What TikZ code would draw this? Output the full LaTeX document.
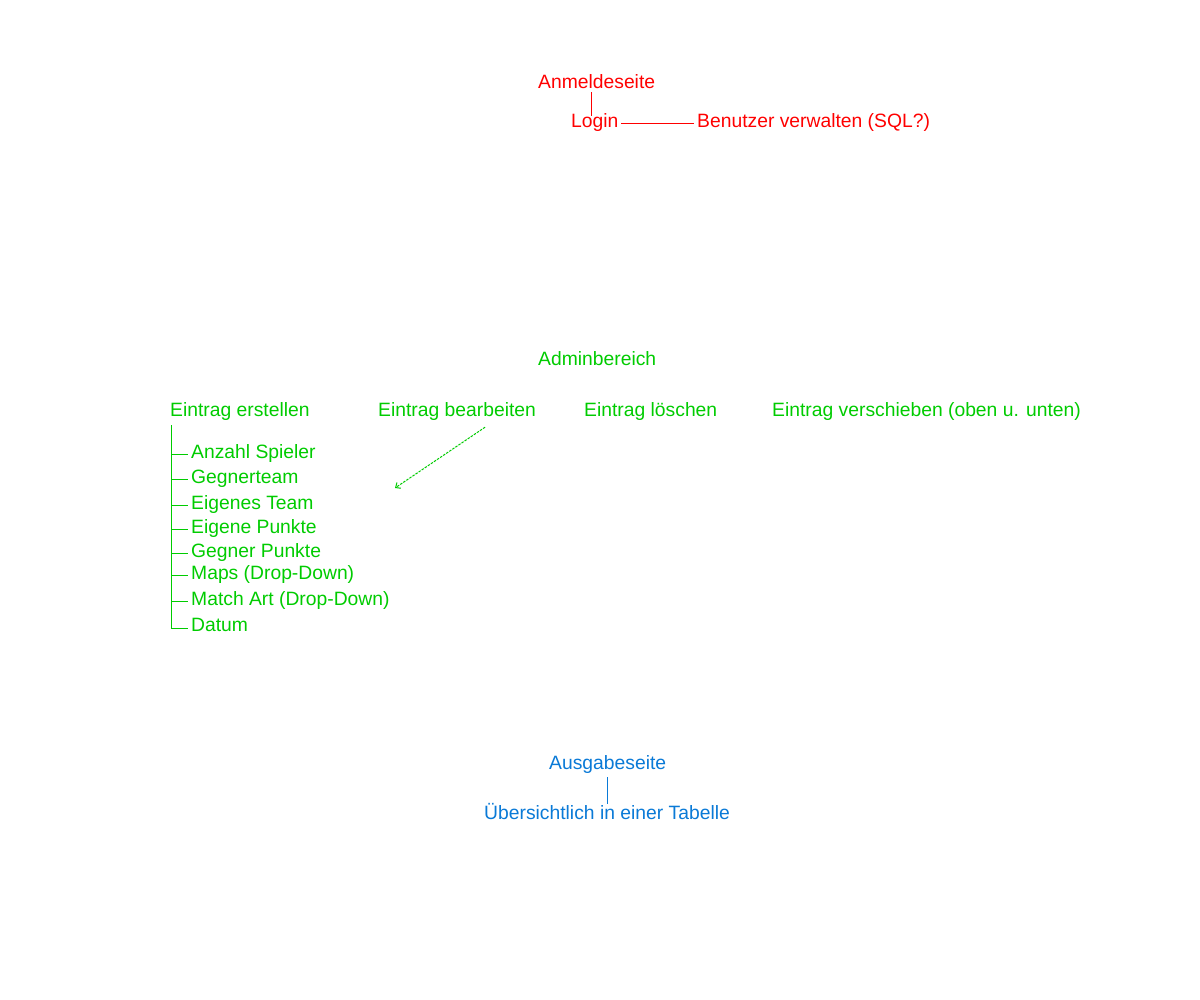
\documentclass[tikz,border=0pt]{standalone}
\usepackage{fontspec}
\setmainfont{Liberation Sans}
\usetikzlibrary{arrows.meta}
\definecolor{cred}{RGB}{255,0,0}
\definecolor{cgreen}{RGB}{0,204,0}
\definecolor{cblue}{RGB}{10,122,215}
\tikzset{
  lbl/.style={inner sep=0pt, anchor=base west, font=\fontsize{19.3}{22}\selectfont},
  redlbl/.style={lbl, text=cred},
  greenlbl/.style={lbl, text=cgreen},
  bluelbl/.style={lbl, text=cblue},
  conn/.style={line width=1pt, line cap=rect},
}
\begin{document}
\begin{tikzpicture}[x=1pt,y=-1pt]
\useasboundingbox[fill=white] (0,0) rectangle (1200,1000);

% Anmeldeseite (red)
\node[redlbl] (anm) at (538,89) {Anmeldeseite};
\node[redlbl] (login) at (571,128) {Login};
\node[redlbl] (benutzer) at (697,128) {Benutzer verwalten (SQL?)};
\draw[conn, color=cred] ([yshift=-3pt]anm.south -| 591.5,0) -- ([yshift=-2pt]login.north -| 591.5,0);
\draw[conn, color=cred] ([xshift=3pt]login.east |- 0,123.5) -- ([xshift=-4pt]benutzer.west |- 0,123.5);

% Adminbereich (green)
\node[greenlbl] (admin) at (538,366) {Adminbereich};
\node[greenlbl] (erst) at (170,416) {Eintrag erstellen};
\node[greenlbl] (bearb) at (378,416) {Eintrag bearbeiten};
\node[greenlbl] (loesch) at (584,416) {Eintrag löschen};
\node[greenlbl] (versch) at (772,416) {Eintrag verschieben (oben u. unten)};

\node[greenlbl] (i1) at (191,458) {Anzahl Spieler};
\node[greenlbl] (i2) at (191,483) {Gegnerteam};
\node[greenlbl] (i3) at (191,509) {Eigenes Team};
\node[greenlbl] (i4) at (191,533) {Eigene Punkte};
\node[greenlbl] (i5) at (191,557) {Gegner Punkte};
\node[greenlbl] (i6) at (191,579) {Maps (Drop-Down)};
\node[greenlbl] (i7) at (191,605) {Match Art (Drop-Down)};
\node[greenlbl] (i8) at (191,631) {Datum};

\coordinate (treetop) at ([xshift=1.5pt,yshift=-5pt]erst.south west);
\draw[conn, color=cgreen] (treetop) |- ([xshift=-4pt,yshift=2.5pt]i8.base west);
\foreach \i in {i1,i2,i3,i4,i5,i6,i7}{
  \draw[conn, color=cgreen] ([xshift=-4pt,yshift=3.5pt]\i.base west) -- ([yshift=3.5pt]\i.base west -| treetop);
}

\coordinate (arrend) at (395,488);
\draw[line width=1pt, color=cgreen, dash pattern=on 2.5pt off 1.2pt, -{Straight Barb[length=4pt,width=7pt]}]
  ([xshift=28pt,yshift=-7pt]bearb.south) -- (arrend);

% Ausgabeseite (blue)
\node[bluelbl] (ausg) at (549,769) {Ausgabeseite};
\node[bluelbl] (tab) at (484,819) {Übersichtlich in einer Tabelle};
\draw[conn, color=cblue] ([yshift=-4pt]ausg.south -| 607.5,0) -- ([yshift=-1pt]tab.north -| 607.5,0);
\end{tikzpicture}
\end{document}
